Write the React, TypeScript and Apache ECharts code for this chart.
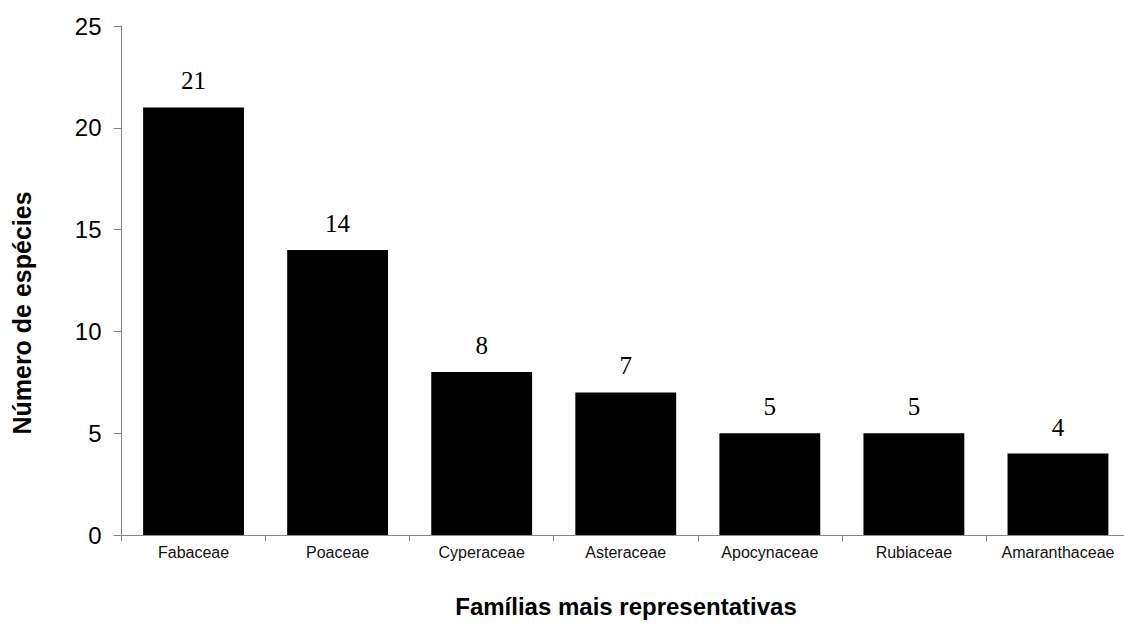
import React, { useEffect, useRef } from "react";
import * as echarts from "echarts";

const categories = ["Fabaceae", "Poaceae", "Cyperaceae", "Asteraceae", "Apocynaceae", "Rubiaceae", "Amaranthaceae"];
const values = [21, 14, 8, 7, 5, 5, 4];
const yTitle = "Número de espécies";
const xTitle = "Famílias mais representativas";

export default function App() {
  const ref = useRef<HTMLDivElement>(null);
  useEffect(() => {
    if (!ref.current) return;
    const chart = echarts.init(ref.current, null, { renderer: "svg" });
    chart.setOption({
      animation: false,
      backgroundColor: "#ffffff",
      grid: { left: 121.5, top: 26, bottom: 93, right: 10, containLabel: false },
      xAxis: {
        type: "category",
        data: categories,
        axisLine: { lineStyle: { color: "#868686", width: 1 } },
        axisTick: { show: true, alignWithLabel: false, length: 6, lineStyle: { color: "#868686" } },
        axisLabel: { color: "#111", fontFamily: "Liberation Sans, Arial, sans-serif", fontSize: 16, margin: 9, interval: 0 },
        splitLine: { show: false },
      },
      yAxis: {
        type: "value",
        min: 0,
        max: 25,
        interval: 5,
        axisLine: { show: true, lineStyle: { color: "#868686", width: 1 } },
        axisTick: { show: true, length: 8, lineStyle: { color: "#868686" } },
        axisLabel: { color: "#000", fontFamily: "Liberation Sans, Arial, sans-serif", fontSize: 24, margin: 20 },
        splitLine: { show: false },
      },
      graphic: [
        {
          type: "text",
          x: 22,
          y: 313,
          rotation: Math.PI / 2,
          style: {
            text: yTitle,
            fontFamily: "Liberation Sans, Arial, sans-serif",
            fontWeight: "bold",
            fontSize: 25,
            fill: "#000",
            align: "center",
            verticalAlign: "middle",
          },
        },
        {
          type: "text",
          x: 626,
          y: 606,
          style: {
            text: xTitle,
            fontFamily: "Liberation Sans, Arial, sans-serif",
            fontWeight: "bold",
            fontSize: 24,
            fill: "#000",
            align: "center",
            verticalAlign: "middle",
          },
        },
      ],
      series: [
        {
          type: "bar",
          data: values,
          barCategoryGap: "30%",
          itemStyle: { color: "#000" },
          label: {
            show: true,
            position: "top",
            distance: 14,
            color: "#000",
            fontFamily: "Liberation Serif, Times New Roman, serif",
            fontSize: 25,
          },
        },
      ],
    });
    return () => chart.dispose();
  }, []);
  return (
    <div style={{ position: "fixed", left: 0, top: 0, width: 1124, height: 628, overflow: "hidden", background: "#fff" }}>
      <div ref={ref} style={{ width: 1140, height: 628 }} />
    </div>
  );
}
